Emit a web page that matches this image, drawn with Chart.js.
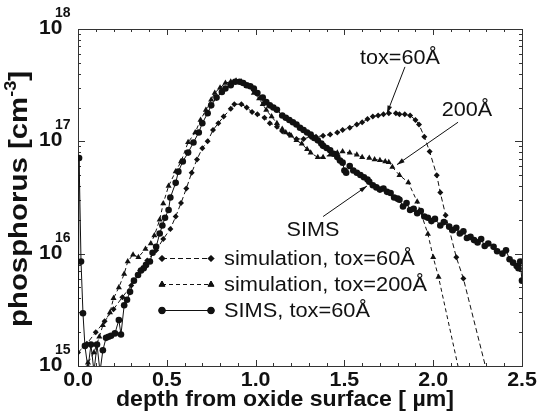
<!DOCTYPE html>
<html>
<head>
<meta charset="utf-8">
<script src="https://cdn.jsdelivr.net/npm/chart.js@4.4.1/dist/chart.umd.min.js"></script>
<style>
  html, body { margin: 0; padding: 0; background: #fff; }
</style>
</head>
<body>
<canvas id="chart" width="543" height="415"></canvas>
<script>
// simulation, tox=60A (diamonds)
const sim60Depth = [0.00, 0.05, 0.10, 0.15, 0.20, 0.25, 0.30, 0.35, 0.39, 0.44, 0.48, 0.52, 0.55, 0.58, 0.61, 0.64, 0.67, 0.70, 0.73, 0.76, 0.79, 0.82, 0.86, 0.88, 0.92, 0.95, 0.98, 1.01, 1.05, 1.08, 1.12, 1.15, 1.19, 1.23, 1.27, 1.31, 1.34, 1.38, 1.42, 1.46, 1.49, 1.53, 1.57, 1.60, 1.63, 1.66, 1.69, 1.72, 1.75, 1.79, 1.81, 1.84, 1.87, 1.90, 1.92, 1.95, 1.98, 2.02, 2.04, 2.07, 2.13, 2.17, 2.31];
const sim60Conc = [1.32e15, 1.58e15, 2.0e15, 2.5e15, 3.2e15, 4.1e15, 5.2e15, 7.1e15, 8.7e15, 1.07e16, 1.35e16, 1.66e16, 2.14e16, 2.82e16, 3.8e16, 5.25e16, 6.9e16, 8.7e16, 1.0e17, 1.26e17, 1.45e17, 1.66e17, 1.95e17, 2.14e17, 2.14e17, 2.0e17, 1.82e17, 1.74e17, 1.62e17, 1.45e17, 1.35e17, 1.23e17, 1.15e17, 1.05e17, 1.05e17, 1.1e17, 1.1e17, 1.12e17, 1.15e17, 1.2e17, 1.26e17, 1.32e17, 1.41e17, 1.48e17, 1.58e17, 1.66e17, 1.7e17, 1.74e17, 1.78e17, 1.78e17, 1.74e17, 1.74e17, 1.7e17, 1.55e17, 1.41e17, 1.1e17, 8.1e16, 5.0e16, 3.5e16, 2.2e16, 9.3e15, 6.0e15, 7.9e14];

// simulation, tox=200A (triangles)
const sim200Depth = [0.03, 0.056, 0.09, 0.12, 0.14, 0.18, 0.20, 0.23, 0.26, 0.28, 0.31, 0.34, 0.38, 0.41, 0.43, 0.46, 0.48, 0.51, 0.55, 0.58, 0.62, 0.66, 0.69, 0.72, 0.75, 0.77, 0.80, 0.83, 0.86, 0.89, 0.92, 0.95, 0.99, 1.02, 1.04, 1.06, 1.09, 1.12, 1.15, 1.17, 1.20, 1.23, 1.26, 1.29, 1.31, 1.35, 1.38, 1.42, 1.46, 1.49, 1.53, 1.57, 1.60, 1.64, 1.67, 1.70, 1.73, 1.75, 1.77, 1.81, 1.86, 1.91, 1.97, 2.00, 2.03, 2.16];
const sim200Conc = [7.1e14, 1.07e15, 1.32e15, 1.82e15, 2.3e15, 3.0e15, 4.0e15, 5.0e15, 6.6e15, 8.5e15, 9.8e15, 9.3e15, 1.1e16, 1.23e16, 1.45e16, 2.0e16, 2.8e16, 4.0e16, 5.4e16, 6.6e16, 9.8e16, 1.2e17, 1.55e17, 1.9e17, 2.34e17, 2.7e17, 3.0e17, 3.3e17, 3.4e17, 3.47e17, 3.4e17, 3.1e17, 2.7e17, 2.4e17, 2.14e17, 1.9e17, 1.66e17, 1.45e17, 1.29e17, 1.2e17, 1.12e17, 1.02e17, 9.5e16, 8.5e16, 7.9e16, 7.2e16, 7.2e16, 7.6e16, 7.9e16, 8.1e16, 7.9e16, 7.6e16, 7.2e16, 7.1e16, 6.9e16, 6.8e16, 6.6e16, 6.5e16, 5.9e16, 5.0e16, 4.3e16, 2.9e16, 1.5e16, 9.3e15, 6.2e15, 7.1e14];

// SIMS, tox=60A (circles)
const simsDepth = [0.000, 0.006, 0.017, 0.028, 0.039, 0.056, 0.073, 0.090, 0.107, 0.124, 0.140, 0.158, 0.172, 0.186, 0.208, 0.230, 0.242, 0.260, 0.276, 0.293, 0.315, 0.338, 0.355, 0.370, 0.383, 0.405, 0.420, 0.440, 0.460, 0.475, 0.490, 0.510, 0.520, 0.550, 0.565, 0.590, 0.620, 0.650, 0.680, 0.700, 0.730, 0.750, 0.780, 0.810, 0.830, 0.860, 0.885, 0.910, 0.930, 0.950, 0.970, 0.990, 1.010, 1.040, 1.060, 1.080, 1.100, 1.120, 1.150, 1.170, 1.190, 1.210, 1.230, 1.250, 1.270, 1.290, 1.310, 1.330, 1.350, 1.370, 1.380, 1.400, 1.420, 1.440, 1.460, 1.475, 1.490, 1.500, 1.510, 1.530, 1.550, 1.570, 1.590, 1.610, 1.630, 1.640, 1.660, 1.680, 1.700, 1.720, 1.740, 1.760, 1.780, 1.800, 1.810, 1.830, 1.850, 1.870, 1.890, 1.910, 1.930, 1.950, 1.970, 1.990, 2.010, 2.040, 2.060, 2.090, 2.110, 2.130, 2.150, 2.170, 2.190, 2.210, 2.230, 2.250, 2.270, 2.290, 2.310, 2.340, 2.360, 2.390, 2.410, 2.430, 2.450, 2.470, 2.480, 2.490, 2.500];
const simsConc = [5.0e14, 7.1e16, 8.5e15, 2.95e15, 1.51e15, 9.5e14, 1.55e15, 8.9e14, 1.55e15, 8.9e14, 1.38e15, 1.78e15, 1.82e15, 1.86e15, 1.95e15, 2.57e15, 1.91e15, 3.47e15, 3.89e15, 4.57e15, 5.75e15, 6.46e15, 7.08e15, 7.41e15, 7.94e15, 8.51e15, 1.02e16, 1.15e16, 1.51e16, 1.78e16, 2.09e16, 2.45e16, 3.16e16, 4.27e16, 5.37e16, 6.61e16, 7.94e16, 9.77e16, 1.20e17, 1.45e17, 1.78e17, 2.09e17, 2.45e17, 2.75e17, 2.95e17, 3.16e17, 3.39e17, 3.39e17, 3.31e17, 3.16e17, 3.09e17, 2.95e17, 2.69e17, 2.45e17, 2.24e17, 2.09e17, 2.00e17, 1.91e17, 1.70e17, 1.62e17, 1.55e17, 1.48e17, 1.41e17, 1.32e17, 1.26e17, 1.20e17, 1.15e17, 1.07e17, 1.02e17, 9.55e16, 9.12e16, 8.71e16, 8.32e16, 7.76e16, 7.24e16, 6.76e16, 6.46e16, 5.50e16, 5.25e16, 6.03e16, 5.50e16, 5.25e16, 5.01e16, 4.79e16, 4.57e16, 4.37e16, 4.07e16, 3.89e16, 3.72e16, 3.80e16, 3.55e16, 3.47e16, 3.16e16, 3.09e16, 3.02e16, 2.63e16, 2.82e16, 2.45e16, 2.51e16, 2.29e16, 2.40e16, 2.14e16, 2.09e16, 1.95e16, 2.04e16, 1.78e16, 1.91e16, 1.74e16, 1.62e16, 1.70e16, 1.51e16, 1.58e16, 1.38e16, 1.41e16, 1.32e16, 1.26e16, 1.35e16, 1.17e16, 1.23e16, 1.15e16, 1.05e16, 1.00e16, 1.07e16, 8.91e15, 8.32e15, 7.76e15, 7.41e15, 8.51e15, 5.75e15];

const seriesLabels = ["simulation, tox=60Å", "simulation, tox=200Å", "SIMS, tox=60Å"];
const xTickLabels = ["0.0", "0.5", "1.0", "1.5", "2.0", "2.5"];
const yDecades = [15, 16, 17, 18];

// callouts: text position and arrow, in data units
const callouts = [
  { text: "tox=60Å", tx: 1.813, ty: 5.5e17, fx: 1.841, fy: 4.6e17, ax: 1.74, ay: 1.78e17 },
  { text: "200Å", tx: 2.19, ty: 1.9e17, fx: 2.14, fy: 1.48e17, ax: 1.796, ay: 6.2e16 },
  { text: "SIMS", tx: 1.323, ty: 1.62e16, fx: 1.38, fy: 2.14e16, ax: 1.627, ay: 4.0e16 }
];

function pts(xs, ys) {
  return xs.map((x, i) => ({ x: x, y: ys[i] }));
}

const INK = "#111";
const FONT = '"Liberation Sans", Arial, sans-serif';

// text stretched a little horizontally, like the original export
function wideText(ctx, text, x, y, sx) {
  ctx.save();
  ctx.translate(x, y);
  ctx.scale(sx, 1);
  ctx.fillText(text, 0, 0);
  ctx.restore();
}

const decorPlugin = {
  id: "decor",
  beforeDatasetsDraw(chart) {
    const ctx = chart.ctx;
    const a = chart.chartArea;
    const xs = chart.scales.x, ys = chart.scales.y;
    ctx.save();
    ctx.strokeStyle = "#333";
    ctx.lineWidth = 1;
    ctx.strokeRect(a.left + 0.5, a.top + 0.5, a.right - a.left, a.bottom - a.top);
    ctx.beginPath();
    for (let i = 0; i <= 25; i++) {
      const px = Math.round(xs.getPixelForValue(i / 10)) + 0.5;
      const len = i % 5 === 0 ? 6 : 3;
      ctx.moveTo(px, a.bottom); ctx.lineTo(px, a.bottom - len);
      ctx.moveTo(px, a.top); ctx.lineTo(px, a.top + len);
    }
    yDecades.forEach(d => {
      for (let m = 1; m <= 9; m++) {
        if (d === 18 && m > 1) break;
        const py = Math.round(ys.getPixelForValue(m * Math.pow(10, d))) + 0.5;
        const len = m === 1 ? 7 : 3;
        ctx.moveTo(a.left, py); ctx.lineTo(a.left + len, py);
        ctx.moveTo(a.right, py); ctx.lineTo(a.right - len, py);
      }
    });
    ctx.stroke();
    ctx.restore();
  },
  afterDraw(chart) {
    const ctx = chart.ctx;
    const xs = chart.scales.x, ys = chart.scales.y;
    ctx.save();
    ctx.fillStyle = INK;
    ctx.strokeStyle = INK;

    // x tick labels
    ctx.font = "bold 20px " + FONT;
    ctx.textAlign = "center";
    ctx.textBaseline = "alphabetic";
    xTickLabels.forEach((t, i) => {
      wideText(ctx, t, xs.getPixelForValue(i * 0.5), 386, 1.07);
    });

    // y tick labels 10^n
    yDecades.forEach(d => {
      const py = ys.getPixelForValue(Math.pow(10, d));
      ctx.textAlign = "left";
      ctx.font = "bold 21px " + FONT;
      ctx.fillText("10", 39, py + 5);
      ctx.font = "bold 14px " + FONT;
      ctx.fillText(String(d), 55, py - 12);
    });

    // x title
    ctx.font = "bold 22px " + FONT;
    ctx.textAlign = "center";
    wideText(ctx, "depth from oxide surface [ \u00b5m]", 285, 406, 1.05);

    // y title
    ctx.save();
    ctx.translate(27, 199);
    ctx.rotate(-Math.PI / 2);
    ctx.scale(1.13, 1);
    const main = "phosphorus [cm";
    ctx.font = "bold 26px " + FONT;
    const w1 = ctx.measureText(main).width;
    const w3 = ctx.measureText("]").width;
    ctx.font = "bold 16px " + FONT;
    const w2 = ctx.measureText("-3").width;
    const x0 = -(w1 + w2 + w3) / 2;
    ctx.textAlign = "left";
    ctx.font = "bold 26px " + FONT;
    ctx.fillText(main, x0, 0);
    ctx.font = "bold 16px " + FONT;
    ctx.fillText("-3", x0 + w1, -11);
    ctx.font = "bold 26px " + FONT;
    ctx.fillText("]", x0 + w1 + w2, 0);
    ctx.restore();

    // callouts
    ctx.font = "20px " + FONT;
    ctx.textAlign = "center";
    ctx.textBaseline = "middle";
    ctx.lineWidth = 1;
    callouts.forEach(c => {
      const tx = xs.getPixelForValue(c.tx), ty = ys.getPixelForValue(c.ty);
      wideText(ctx, c.text, tx, ty, 1.08);
      const fx = xs.getPixelForValue(c.fx), fy = ys.getPixelForValue(c.fy);
      const ax = xs.getPixelForValue(c.ax), ay = ys.getPixelForValue(c.ay);
      ctx.beginPath();
      ctx.moveTo(fx, fy); ctx.lineTo(ax, ay);
      ctx.stroke();
      const ang = Math.atan2(ay - fy, ax - fx);
      ctx.beginPath();
      ctx.moveTo(ax, ay);
      ctx.lineTo(ax - 8 * Math.cos(ang - 0.3), ay - 8 * Math.sin(ang - 0.3));
      ctx.lineTo(ax - 8 * Math.cos(ang + 0.3), ay - 8 * Math.sin(ang + 0.3));
      ctx.closePath();
      ctx.fill();
    });

    // legend
    const rows = [258, 284, 310];
    chart.data.datasets.forEach((ds, i) => {
      const y = rows[i] + 0.5;
      ctx.save();
      ctx.strokeStyle = INK;
      ctx.lineWidth = 1;
      ctx.setLineDash(ds.borderDash || []);
      ctx.beginPath();
      ctx.moveTo(162, y); ctx.lineTo(211, y);
      ctx.stroke();
      ctx.restore();
      [162, 211].forEach(px => {
        Chart.helpers.drawPoint(ctx, {
          pointStyle: ds.pointStyle, radius: ds.pointRadius, rotation: 0, borderWidth: 1
        }, px, y);
        ctx.fill();
      });
      ctx.font = "20px " + FONT;
      ctx.textAlign = "left";
      ctx.textBaseline = "middle";
      wideText(ctx, seriesLabels[i], 224, y + 1, 1.09);
    });
    ctx.restore();
  }
};

new Chart(document.getElementById("chart").getContext("2d"), {
  type: "line",
  data: {
    datasets: [
      {
        label: seriesLabels[0],
        data: pts(sim60Depth, sim60Conc),
        borderColor: INK, backgroundColor: INK,
        borderWidth: 1, borderDash: [5, 3],
        pointStyle: "rectRot", pointRadius: 3, pointBorderWidth: 0,
        tension: 0
      },
      {
        label: seriesLabels[1],
        data: pts(sim200Depth, sim200Conc),
        borderColor: INK, backgroundColor: INK,
        borderWidth: 1, borderDash: [4, 3],
        pointStyle: "triangle", pointRadius: 3.5, pointBorderWidth: 0,
        tension: 0
      },
      {
        label: seriesLabels[2],
        data: pts(simsDepth, simsConc),
        borderColor: INK, backgroundColor: INK,
        borderWidth: 1,
        pointStyle: "circle", pointRadius: 3.3, pointBorderWidth: 0,
        tension: 0
      }
    ]
  },
  options: {
    responsive: false,
    animation: false,
    devicePixelRatio: 1,
    layout: { padding: { left: 78, right: 21, top: 29, bottom: 49 } },
    plugins: { legend: { display: false }, tooltip: { enabled: false } },
    scales: {
      x: { type: "linear", min: 0, max: 2.5, display: false },
      y: { type: "logarithmic", min: 1e15, max: 1e18, display: false }
    }
  },
  plugins: [decorPlugin]
});
</script>
</body>
</html>
